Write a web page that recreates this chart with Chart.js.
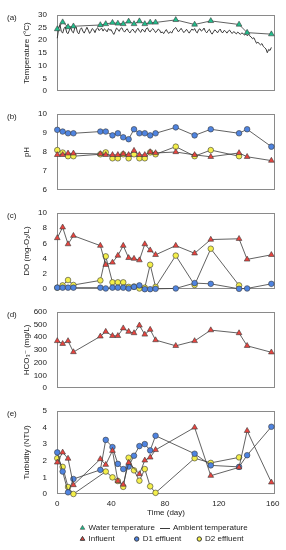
<!DOCTYPE html>
<html><head><meta charset="utf-8">
<script src="https://cdn.jsdelivr.net/npm/chart.js@4.4.1/dist/chart.umd.min.js"></script>
<style>
html,body{margin:0;padding:0;background:#fff;}
#wrap{position:relative;width:286px;height:550px;overflow:hidden;background:#fff;}
canvas{position:absolute;left:0;}
</style></head><body><div id="wrap">
<canvas id="ca" width="286" height="106" style="top:0px"></canvas>
<canvas id="cb" width="286" height="106" style="top:99px"></canvas>
<canvas id="cc" width="286" height="106" style="top:198px"></canvas>
<canvas id="cd" width="286" height="106" style="top:297px"></canvas>
<canvas id="ce" width="286" height="154" style="top:396px"></canvas>
</div>
<script>
// ---------------- DATA ----------------
const days = [0,4,8,12,32,36,41,45,49,53,57,61,65,69,73,88,102,114,135,141,159];
const xTicks = [0,40,80,120,160];

const waterTemp = [24.4,27.1,25.2,25.5,26.0,26.4,26.9,26.6,26.4,27.4,26.4,27.5,26.4,27.0,27.0,28.0,26.2,27.6,26.2,23.0,22.4];
// ambient temperature, one value per day from day 0 to day 159
const ambientTemp = [
 20.8,24.5,26.2,23.5,22.8,24.6,25.3,23.0,22.6,24.0,
 25.0,23.4,22.9,24.8,25.2,23.1,22.5,24.2,24.9,23.6,
 22.8,23.9,25.1,24.0,22.7,23.5,24.6,24.1,23.0,24.4,
 24.9,23.8,24.3,24.7,23.6,24.5,24.0,23.3,24.6,23.9,
 24.2,23.1,22.3,23.4,24.8,24.3,23.5,24.6,24.9,23.8,
 23.2,24.1,24.5,23.4,22.9,23.8,24.4,23.5,23.0,24.2,
 24.7,23.6,23.1,24.3,24.0,23.2,24.5,24.9,23.7,23.3,
 24.1,24.6,23.9,23.0,23.6,24.4,24.0,22.9,23.3,22.6,
 23.5,24.2,23.1,22.7,23.4,22.8,23.9,24.6,25.0,24.1,
 23.3,24.0,24.7,23.8,23.0,23.6,24.3,23.5,22.8,23.7,
 24.4,23.9,24.6,23.4,22.9,24.2,24.5,23.6,24.0,24.8,
 23.5,22.9,23.8,24.3,23.1,22.4,23.3,24.1,23.6,22.9,
 23.8,24.4,23.2,23.0,23.9,23.5,22.8,23.6,24.0,23.1,
 22.7,23.4,23.0,22.5,23.2,22.8,22.3,22.9,22.6,22.1,
 22.4,21.8,22.2,21.7,21.3,20.6,21.0,19.9,18.8,19.3,
 18.6,18.2,18.7,17.6,17.1,16.6,15.1,16.4,16.0,17.2
];
const tempTicks = [0,5,10,15,20,25,30];

const phInfluent = [7.85,7.85,7.93,7.93,7.9,7.85,7.85,7.85,7.9,7.85,8.07,7.85,7.85,8.0,7.95,8.0,7.85,7.75,7.95,7.75,7.55];
const phD1 = [9.16,9.07,8.98,8.98,9.07,9.07,8.87,8.98,8.77,8.67,9.19,8.98,8.98,8.87,8.98,9.29,8.87,9.19,8.98,9.19,8.28];
const phD2 = [8.1,7.97,7.78,7.78,7.88,7.98,7.67,7.67,7.88,7.67,7.88,7.67,7.67,7.98,7.88,8.28,7.78,8.1,7.78,null,null];
const phTicks = [6,7,8,9,10];

const doInfluent = [6.7,8.1,5.9,7.0,5.7,3.2,3.5,4.4,5.7,4.1,4.0,3.8,5.9,5.1,4.5,5.7,4.7,6.5,6.6,3.9,4.5];
const doD1 = [0.2,0.2,0.2,0.2,0.2,0.1,0.2,0.2,0.2,0.1,0.3,0.5,0.0,0.0,0.05,0.1,0.8,0.7,0.05,0.1,0.7];
const doD2 = [0.2,0.5,1.2,0.55,1.15,4.3,0.9,0.9,0.9,0.3,0.35,0.1,0.2,3.2,0.3,4.4,0.55,5.3,0.5,null,null];
const doTicks = [0,2,4,6,8,10];

const hco3Influent = [371,349,371,284,407,444,411,411,471,444,433,493,422,460,378,333,371,456,433,333,282];
const hco3Ticks = [0,100,200,300,400,500,600];

const turbInfluent = [1.9,2.5,2.13,0.54,2.1,1.76,2.6,0.78,0.57,1.88,null,1.2,2.02,2.2,2.65,null,4.0,1.1,1.6,3.8,0.7];
const turbD1 = [2.5,1.35,0.1,0.9,1.45,3.25,2.82,1.81,1.5,1.65,2.3,2.88,3.0,2.62,3.5,null,2.42,1.72,1.63,2.33,4.04];
const turbD2 = [2.15,1.63,0.42,0.0,null,1.35,1.0,0.78,0.43,2.18,1.42,0.8,1.5,0.46,0.07,null,2.15,1.87,2.2,null,null];
const turbTicks = [0,1,2,3,4,5];

// ---------------- STYLE ----------------
const FONT = '"Liberation Sans", Arial, "DejaVu Sans", sans-serif';
const GREEN = '#20bf8c', RED = '#e8443f', BLUE = '#4f84e0', YELLOW = '#f4ef4a';
const LINE = '#3a3a3a', TEXT = '#222';
Chart.defaults.font.family = FONT;
Chart.defaults.font.size = 8;
Chart.defaults.color = TEXT;
Chart.defaults.animation = false;

function series(xs, ys, color, style, r) {
  return {
    data: xs.map((x, i) => ({x: x, y: ys[i]})),
    borderColor: LINE, borderWidth: 0.8, backgroundColor: color,
    pointBackgroundColor: color, pointBorderColor: LINE, pointBorderWidth: 0.6,
    pointStyle: style, pointRadius: r, pointHoverRadius: r,
    spanGaps: true, clip: false, tension: 0
  };
}

const framePlugin = {
  id: 'frame',
  beforeDatasetsDraw(chart) {
    const {ctx, chartArea: a} = chart;
    ctx.save();
    ctx.strokeStyle = '#8a8a8a'; ctx.lineWidth = 1;
    ctx.strokeRect(Math.round(a.left) + 0.5, Math.round(a.top) + 0.5,
                   Math.round(a.right - a.left) - 1, Math.round(a.bottom - a.top) - 1);
    ctx.restore();
  },
  afterDraw(chart, args, opts) {
    const {ctx, chartArea: a} = chart;
    ctx.save();
    ctx.font = '8px ' + FONT; ctx.fillStyle = TEXT;
    ctx.textAlign = 'left'; ctx.textBaseline = 'middle';
    ctx.fillText(opts.label, 7, a.top + 3);
    ctx.restore();
  }
};

const legendPlugin = {
  id: 'rowsLegend',
  afterDraw(chart) {
    const ctx = chart.ctx;
    const rows = [132, 143];
    const items = [
      {row: 0, x: 82.5, kind: 'triangle', color: GREEN, label: 'Water temperature', tx: 88.5},
      {row: 0, x: 165, kind: 'line', label: 'Ambient temperature', tx: 173},
      {row: 1, x: 82.5, kind: 'triangle', color: RED, label: 'Influent', tx: 88.5},
      {row: 1, x: 136.7, kind: 'circle', color: BLUE, label: 'D1 effluent', tx: 142.7},
      {row: 1, x: 199.3, kind: 'circle', color: YELLOW, label: 'D2 effluent', tx: 205}
    ];
    ctx.save();
    items.forEach(it => {
      const y = rows[it.row];
      if (it.kind === 'line') {
        ctx.strokeStyle = LINE; ctx.lineWidth = 1;
        ctx.beginPath(); ctx.moveTo(it.x - 5, y + 0.5); ctx.lineTo(it.x + 5, y + 0.5); ctx.stroke();
      } else {
        ctx.fillStyle = it.color; ctx.strokeStyle = LINE;
        Chart.helpers.drawPoint(ctx, {pointStyle: it.kind, radius: it.kind === 'circle' ? 2.2 : 2.6, borderWidth: 0.5, rotation: 0}, it.x, y);
      }
      ctx.font = '8px ' + FONT; ctx.fillStyle = TEXT;
      ctx.textAlign = 'left'; ctx.textBaseline = 'middle';
      ctx.fillText(it.label, it.tx, y);
    });
    ctx.restore();
  }
};

function makeChart(id, label, datasets, yMin, yMax, yTicks, yTitle, isLast) {
  const plugins = [framePlugin];
  if (isLast) plugins.push(legendPlugin);
  return new Chart(document.getElementById(id), {
    type: 'line',
    data: {datasets: datasets},
    plugins: plugins,
    options: {
      responsive: false, animation: false,
      layout: {padding: {left: 0, right: 11, top: 8, bottom: isLast ? 0 : 8}},
      plugins: {legend: {display: false}, tooltip: {enabled: false}, frame: {label: label}},
      scales: {
        x: {
          type: 'linear', min: -0.2, max: 161.7, display: isLast,
          afterBuildTicks: s => { s.ticks = xTicks.map(v => ({value: v})); },
          afterFit: s => { s.height = isLast ? 56 : 0; },
          grid: {display: false, drawTicks: false}, border: {display: false},
          ticks: {padding: 5, color: TEXT, font: {size: 8}, maxRotation: 0},
          title: {display: true, text: 'Time (day)', color: TEXT, font: {size: 8}, padding: {top: 0, bottom: 32}}
        },
        y: {
          type: 'linear', min: yMin, max: yMax,
          afterBuildTicks: s => { s.ticks = yTicks.map(v => ({value: v})); },
          afterFit: s => { s.width = 57; },
          grid: {display: false, drawTicks: false}, border: {display: false},
          ticks: {padding: 10, color: TEXT, font: {size: 8}},
          title: {display: true, text: yTitle, color: TEXT, font: {size: 8}, padding: {top: 22, bottom: 0}}
        }
      }
    }
  });
}

const ambientDays = ambientTemp.map((v, i) => i);
const ambient = series(ambientDays, ambientTemp, LINE, 'circle', 0);
ambient.borderWidth = 1; ambient.pointBorderWidth = 0;

makeChart('ca', '(a)', [series(days, waterTemp, GREEN, 'triangle', 3.3), ambient], 0, 30, tempTicks, 'Temperature (°C)', false);
makeChart('cb', '(b)', [series(days, phInfluent, RED, 'triangle', 3.3), series(days, phD1, BLUE, 'circle', 2.8), series(days, phD2, YELLOW, 'circle', 2.8)], 6, 10, phTicks, 'pH', false);
makeChart('cc', '(c)', [series(days, doInfluent, RED, 'triangle', 3.3), series(days, doD1, BLUE, 'circle', 2.8), series(days, doD2, YELLOW, 'circle', 2.8)], 0, 10, doTicks, 'DO (mg-O\u2082/L)', false);
makeChart('cd', '(d)', [series(days, hco3Influent, RED, 'triangle', 3.3)], 0, 600, hco3Ticks, 'HCO\u2083\u207B (mg/L)', false);
makeChart('ce', '(e)', [series(days, turbInfluent, RED, 'triangle', 3.3), series(days, turbD1, BLUE, 'circle', 2.8), series(days, turbD2, YELLOW, 'circle', 2.8)], 0, 5, turbTicks, 'Turbidity (NTU)', true);
</script>
</body></html>
